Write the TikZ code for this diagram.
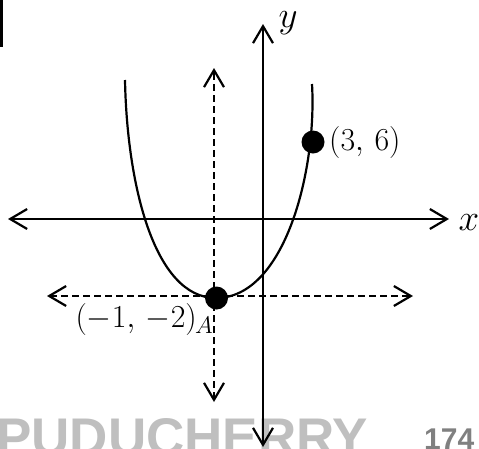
\RequirePackage{fix-cm}
\documentclass[tikz,border=0pt]{standalone}
\usepackage{fontspec}
\newfontfamily\wmfont{Liberation Sans}
\usetikzlibrary{arrows.meta}
\tikzset{
  >={Straight Barb[length=17pt,width=20pt]},
  axisline/.style={line width=2.2pt,<->},
  guide/.style={line width=2.2pt,dash pattern=on 7pt off 4pt,<->},
  curveline/.style={line width=2.2pt},
  dot/.style={circle,fill=black,inner sep=0pt,minimum size=23pt},
  lbl/.style={inner sep=0pt,font=\fontsize{32}{36}\selectfont},
  axlbl/.style={inner sep=0pt,font=\fontsize{37}{42}\selectfont},
  wm/.style={inner sep=0pt,anchor=base west}
}
\begin{document}
\begin{tikzpicture}[x=1pt,y=-1pt]
\useasboundingbox (0,0) rectangle (479,448);
\clip (0,0) rectangle (479,448);
% watermark
\node[wm,text=black!25,font=\wmfont\bfseries\fontsize{53}{60}\selectfont] (wmk) at (-4,455) {PUDUCHERRY};
\node[wm,text=black!50,font=\wmfont\bfseries\fontsize{30}{34}\selectfont] (pg) at (424,449.5) {174};
% corner box
\draw[line width=3pt] (-20,-20) rectangle (1.5,45);
% coordinates
\coordinate (xL) at (8,219);
\coordinate (xR) at (449,219);
\coordinate (yT) at (263,24);
\coordinate (yB) at (263,447);
\coordinate (gT) at (214,68);
\coordinate (gB) at (214,402);
\coordinate (gL) at (47,296);
\coordinate (gR) at (413,296);
\coordinate (pL) at (125,80);
\coordinate (pR) at (312,84);
\coordinate (v) at (216,298);
% axes
\draw[axisline] (xL) -- (xR);
\draw[axisline] (yB) -- (yT);
% guides
\draw[guide] (gB) -- (gT);
\draw[guide] (gL) -- (gR);
% parabola
\draw[curveline] (pL) .. controls (127,184) and (154,298) .. (v)
  .. controls (285,298) and (317,170) .. (pR);
% points
\node[dot] (A) at (216.5,298) {};
\node[dot] (B) at (313,142) {};
% labels
\node[axlbl,anchor=base] (xlab) at (469,230) {$x$};
\node[axlbl,anchor=base] (ylab) at (288,27.6) {$y$};
\node[lbl,anchor=base west] (Blab) at (329,150) {$(3,\,6)$};
\node[lbl,anchor=base east] (Alab) at (197,327) {$(-1,\,-2)$};
\node[inner sep=0pt,anchor=base west,font=\fontsize{24}{28}\selectfont] (Aname) at (195,333) {$A$};
\end{tikzpicture}
\end{document}
